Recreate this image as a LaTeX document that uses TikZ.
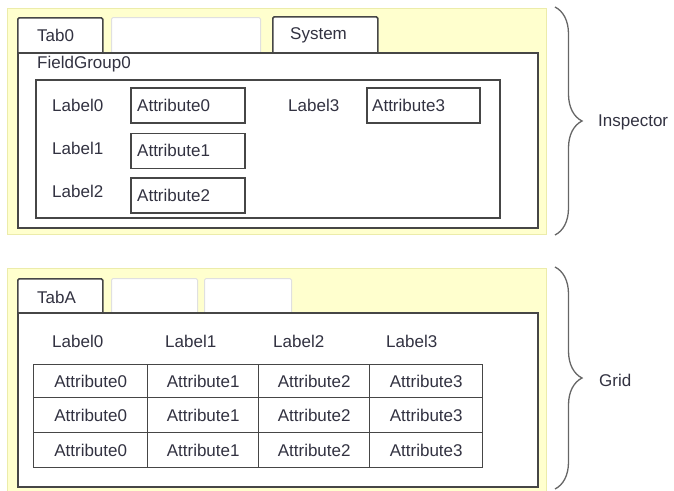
\documentclass[tikz,border=0pt]{standalone}
\usepackage{fontspec}
\setmainfont{Liberation Sans}
\usetikzlibrary{positioning}
\usetikzlibrary{decorations.pathreplacing}
\definecolor{ink}{RGB}{50,50,65}
\definecolor{edge}{RGB}{70,70,70}
\definecolor{pad}{RGB}{255,255,206}
\definecolor{padline}{RGB}{236,236,170}
\tikzset{
    panel/.style={
           rectangle,
           fill=pad, draw=padline, line width=1pt,
           anchor=north west,
           inner sep=0pt,
           },
    frame/.style={
           rectangle,
           fill=white, draw=edge, line width=1.6pt,
           anchor=north west,
           inner sep=0pt,
           },
    tabbox/.style={
           rectangle,
           rounded corners=1.5pt,
           fill=white, draw=edge, line width=1.6pt,
           anchor=north west,
           inner sep=0pt,
           },
    emptytab/.style={
           tabbox,
           draw=black!12, line width=1pt,
           },
    field/.style={
           rectangle,
           draw=edge, line width=1.6pt,
           anchor=north west,
           minimum width=114pt, minimum height=35pt,
           inner sep=0pt,
           },
    cell/.style={
           rectangle,
           draw=edge, line width=1.4pt,
           anchor=north west,
           minimum height=35pt,
           inner sep=0pt,
           font=\fontsize{17}{20}\selectfont, text=ink,
           },
    txt/.style={
           anchor=west,
           inner sep=0pt,
           font=\fontsize{17}{20}\selectfont, text=ink,
           },
    curly/.style={
           draw=black!60, line width=1.3pt,
           decorate, decoration={brace, amplitude=27pt},
           },
}

\begin{document}
\begin{tikzpicture}[x=1pt,y=-1pt]
 \useasboundingbox (0,0) rectangle (674,490);

 % Inspector: yellow pad, tabs and frame
 \node[panel, minimum width=539pt, minimum height=226pt] (Inspector Pad) at (7,8) {};
 \node[tabbox, minimum width=85pt, minimum height=40pt] (Tab0) at (17,17) {};
 \node[emptytab, minimum width=149pt, minimum height=40pt] (Tab Blank) at (111,17) {};
 \node[tabbox, minimum width=105pt, minimum height=41pt] (System) at (272,16) {};
 \node[frame, minimum width=520pt, minimum height=175pt] (Inspector Frame) at (17,52) {};
 \node[txt] at (37,35) {Tab0};
 \node[txt] at (290,35) {System};

 % FieldGroup0 with its labels and attribute fields
 \node[txt] (FieldGroup0) at (37,64) {FieldGroup0};
 \node[frame, minimum width=464pt, minimum height=138pt] (Field Frame) at (35,79) {};

 \node[field] (Attr0) at (130,87) {};
 \node[field, below=9pt of Attr0] (Attr1) {};
 \node[field, below=8pt of Attr1] (Attr2) {};
 \node[field, minimum width=113pt] (Attr3) at (366,87) {};

 \node[txt] (Label0) at (52,105) {Label0};
 \node[txt] (Label1) at (52,148) {Label1};
 \node[txt] (Label2) at (52,191) {Label2};
 \node[txt] (Label3) at (288,105) {Label3};
 \node[txt] at ([xshift=7pt]Attr0.west) {Attribute0};
 \node[txt] at ([xshift=7pt]Attr1.west) {Attribute1};
 \node[txt] at ([xshift=7pt]Attr2.west) {Attribute2};
 \node[txt] at ([xshift=6pt]Attr3.west) {Attribute3};

 % Grid: yellow pad, tabs and frame
 \node[panel, minimum width=539pt, minimum height=223pt] (Grid Pad) at (7,268) {};
 \node[tabbox, minimum width=85pt, minimum height=36pt] (TabA) at (17,278) {};
 \node[emptytab, minimum width=86pt, minimum height=36pt] (Tab Blank 2) at (111,278) {};
 \node[emptytab, minimum width=87pt, minimum height=36pt] (Tab Blank 3) at (204,278) {};
 \node[frame, minimum width=520pt, minimum height=174pt] (Grid Frame) at (17,312) {};
 \node[txt] at (37,297) {TabA};

 % column headers
 \node[txt] (Head0) at (52,341) {Label0};
 \node[txt] (Head1) at (165,341) {Label1};
 \node[txt] (Head2) at (273,341) {Label2};
 \node[txt] (Head3) at (386,341) {Label3};

 % grid cells, one row after the other
 \node[cell, minimum width=114pt, minimum height=33pt] (R0C0) at (33,364) {Attribute0};
 \node[cell, minimum width=111pt, minimum height=33pt] (R0C1) at (147,364) {Attribute1};
 \node[cell, minimum width=111pt, minimum height=33pt] (R0C2) at (258,364) {Attribute2};
 \node[cell, minimum width=113pt, minimum height=33pt] (R0C3) at (369,364) {Attribute3};
 \node[cell, minimum width=114pt] (R1C0) at (33,397) {Attribute0};
 \node[cell, minimum width=111pt] (R1C1) at (147,397) {Attribute1};
 \node[cell, minimum width=111pt] (R1C2) at (258,397) {Attribute2};
 \node[cell, minimum width=113pt] (R1C3) at (369,397) {Attribute3};
 \node[cell, minimum width=114pt] (R2C0) at (33,432) {Attribute0};
 \node[cell, minimum width=111pt] (R2C1) at (147,432) {Attribute1};
 \node[cell, minimum width=111pt] (R2C2) at (258,432) {Attribute2};
 \node[cell, minimum width=113pt] (R2C3) at (369,432) {Attribute3};

 % braces and their names
 \coordinate (Top A) at (555,7);
 \coordinate (Top B) at (555,235);
 \coordinate (Bottom A) at (555,267);
 \coordinate (Bottom B) at (555,489);
 \draw[curly] (Top A) -- (Top B);
 \draw[curly] (Bottom A) -- (Bottom B);
 \node[txt] (Inspector) at (598,122) {Inspector};
 \node[txt] (Grid) at (599,380) {Grid};
\end{tikzpicture}
\end{document}
